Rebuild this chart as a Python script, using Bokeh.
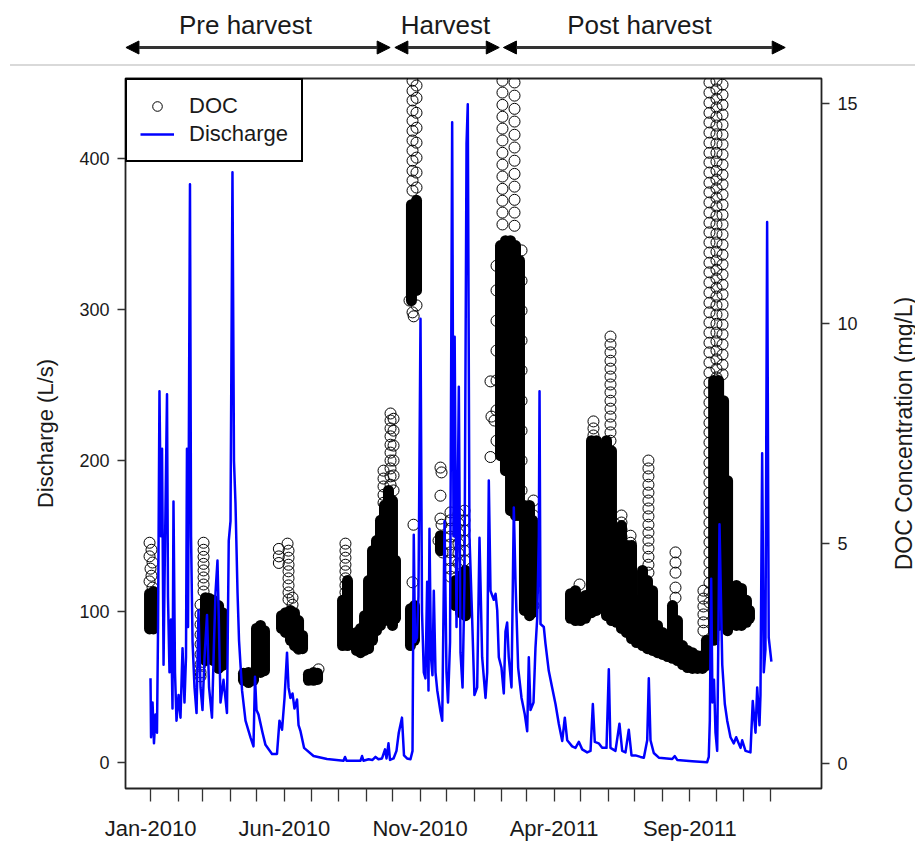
import pandas as pd
from bokeh.plotting import figure
from bokeh.models import (ColumnDataSource, Range1d, LinearAxis, FixedTicker,
                          Legend, LegendItem, Arrow, NormalHead, Div)
from bokeh.layouts import column, row
from bokeh.embed import file_html
from bokeh.resources import INLINE
from bokeh.core.properties import value

ORIGIN = pd.Timestamp("2010-01-01")   # x values are days since this date

# ---------------- data ----------------
# Stream discharge (L/s)
q_day = [0.0, 0.6, 2.3, 3.9, 5.6, 7.3, 8.5, 10.1, 11.8, 13.0,
         14.7, 15.8, 18.6, 19.7, 21.4, 23.1, 24.8, 25.9, 27.6, 29.3,
         31.6, 33.8, 36.1, 38.3, 40.0, 41.1, 42.3, 44.5, 45.7, 47.4,
         49.6, 51.9, 54.1, 56.4, 58.6, 60.9, 63.7, 66.0, 69.3, 71.6,
         73.3, 75.5, 77.2, 78.9, 82.3, 86.2, 88.2, 90.2, 92.4, 94.1,
         95.8, 98.1, 99.8, 103.2, 107.1, 112.7, 116.1, 117.8, 119.5, 121.8,
         126.3, 129.6, 137.0, 142.6, 145.4, 148.3, 151.1, 153.9, 155.6, 157.8,
         160.1, 162.3, 165.2, 166.9, 169.1, 173.1, 183.8, 199.0, 217.6, 219.3,
         221.0, 236.8, 238.5, 240.1, 245.8, 250.3, 253.7, 257.0, 261.0, 264.4,
         266.1, 268.3, 270.0, 274.0, 277.3, 279.9, 283.5, 285.8, 289.2, 293.1,
         295.4, 296.8, 298.2, 300.4, 302.1, 304.4, 306.1, 308.1, 310.0, 311.9,
         313.4, 314.5, 316.2, 317.9, 319.4, 321.3, 323.3, 326.9, 328.9, 331.5,
         333.7, 335.4, 337.7, 340.1, 341.6, 342.9, 345.0, 347.6, 349.5, 351.8,
         354.0, 356.3, 357.7, 359.6, 362.6, 365.2, 368.3, 370.9, 373.9, 377.7,
         379.6, 381.4, 383.3, 387.0, 389.0, 390.9, 392.7, 395.7, 398.3, 400.2,
         402.1, 403.9, 407.0, 409.6, 411.5, 414.5, 418.3, 422.0, 424.7, 426.5,
         428.4, 431.8, 434.0, 436.0, 437.8, 438.6, 439.7, 443.4, 445.3, 449.0,
         452.8, 456.6, 460.3, 464.2, 467.1, 469.8, 475.4, 479.1, 482.9, 486.7,
         492.3, 496.1, 498.7, 500.9, 505.3, 509.2, 514.1, 516.7, 518.6, 524.2,
         528.7, 531.8, 535.5, 539.2, 542.3, 546.8, 552.4, 556.2, 560.0, 561.8,
         563.7, 567.4, 573.1, 588.2, 591.1, 593.8, 610.7, 627.6, 629.4, 630.6,
         632.1, 633.6, 635.3, 637.0, 638.9, 641.5, 644.6, 647.5, 650.2, 653.9,
         657.6, 660.3, 665.2, 667.1, 670.8, 676.4, 679.0, 682.1, 684.0, 686.6,
         687.7, 689.6, 691.4, 693.3, 695.2, 697.0, 700.0]
q_val = [56, 17, 40, 13, 32, 20, 90, 246, 150, 208,
         65, 120, 244, 110, 60, 95, 36, 173, 60, 28,
         45, 30, 76, 40, 70, 208, 90, 383, 150, 80,
         50, 33, 101, 50, 35, 70, 98, 50, 30, 80,
         113, 134, 90, 40, 55, 33, 147, 160, 391, 200,
         172, 113, 81, 48, 28, 17, 11, 57, 35, 32,
         20, 12, 6, 6, 28, 22, 43, 73, 50, 43,
         46, 36, 42, 25, 21, 10, 4.6, 2.6, 1.5, 4,
         1.5, 1.5, 4.6, 1.5, 2.5, 2, 4, 2.5, 3, 9,
         3, 13, 2, 3, 8, 20, 30, 5, 3, 2.5,
         8, 151, 80, 83, 110, 294, 100, 60, 56, 120,
         48, 155, 70, 58, 114, 60, 48, 34, 28, 160,
         60, 40, 80, 424, 150, 282, 90, 249, 73, 50,
         120, 410, 436, 150, 96, 45, 50, 149, 70, 43,
         60, 187, 114, 108, 112, 101, 70, 63, 46, 87,
         93, 70, 50, 169, 120, 63, 43, 32, 21, 70,
         35, 40, 76, 96, 150, 246, 92, 90, 79, 61,
         50, 39, 26, 14.6, 30, 15, 11, 10, 14, 9,
         7, 8, 39, 14, 13, 10, 10, 62, 10, 8,
         26, 8, 7, 22, 5, 5, 4, 3.5, 15, 56,
         15, 6.6, 3.5, 2.6, 4.5, 2, 1.2, 0.5, 4, 28,
         122, 40, 55, 20, 8, 158, 65, 39, 28, 17,
         13, 17, 10, 15, 8, 7, 41, 20, 50, 25,
         45, 205, 60, 75, 358, 83, 67]

# DOC samples (mg/L): for each sampling day, the concentrations recorded
doc_burst_day = [-1.1, 0.0, 1.1, 2.3,
                 56.4, 59.8,
                 144.7, 154.5, 155.6, 160.1, 166.9,
                 189.4,
                 219.8,
                 262.7, 270.6, 274.0,
                 292.0, 295.4, 296.5, 296.7, 299.9,
                 324.7, 326.9, 328.1, 329.2,
                 338.2, 347.2, 354.0,
                 383.3, 384.4, 387.8, 390.1, 396.8, 410.4, 418.3,
                 431.8,
                 483.7,
                 499.4,
                 518.6, 531.0, 541.2,
                 561.4, 591.9, 623.4,
                 630.2, 638.1, 644.9]
doc_burst_val = [
    [5.01, 4.70, 4.13], [4.42], [4.85, 4.26], [4.56, 3.99],
    [3.60, 3.38, 3.15, 2.92, 2.70, 2.47, 2.24, 2.06, 1.97],
    [5.01, 4.85, 4.69, 4.53, 4.38, 4.22, 4.06, 3.90],
    [4.87, 4.70, 4.55], [4.99], [4.83, 4.67, 4.51, 4.36, 4.20, 4.04, 3.88, 3.72],
    [3.76, 3.60], [2.79, 2.60],
    [2.13],
    [4.99, 4.83, 4.67, 4.51, 4.36, 4.20, 4.04, 3.88, 3.72, 3.56],
    [6.65, 6.47, 6.29, 6.10, 5.92],
    [7.95, 7.79, 7.61, 7.43, 7.24, 7.06, 6.88, 6.70, 6.52, 6.33],
    [7.83, 7.56, 7.22, 6.88, 6.54, 6.20],
    [10.52],
    [15.52, 15.29, 15.07, 14.84, 14.61, 14.38, 14.16, 13.93, 13.70, 13.47, 13.25, 13.02, 10.25, 4.11],
    [5.42], [10.16],
    [15.41, 15.13, 14.79, 14.45, 14.11, 13.77, 13.43, 13.09, 10.41],
    [5.06], [6.72, 6.08, 5.56], [6.61, 5.42], [4.79],
    [5.70, 5.52, 5.33, 5.15, 4.97, 4.79, 4.61, 4.42, 4.24],
    [5.67, 5.45, 5.22, 4.99, 4.77, 4.54],
    [5.74, 5.52, 5.29, 5.06, 4.83, 4.61],
    [8.68, 6.96], [7.88], [7.79],
    [11.31, 10.75, 10.06, 9.38, 8.70, 8.02, 7.33],
    [15.52, 15.25, 14.97, 14.70, 14.43, 14.16, 13.88, 13.61, 13.34, 13.06, 12.79, 12.52, 12.25],
    [15.48, 15.18, 14.88, 14.59, 14.29, 14.00, 13.70, 13.40, 13.11, 12.81, 12.52, 12.22],
    [11.66, 10.97, 10.29, 9.61, 8.93, 8.24, 7.56, 6.88, 6.20],
    [5.97, 5.63, 5.29, 4.95, 4.61, 4.26, 3.92, 3.58],
    [4.06],
    [7.77, 7.61, 7.45],
    [9.70, 9.52, 9.34, 9.15, 8.97, 8.79, 8.61, 8.43, 8.24, 8.06, 7.88, 7.70, 7.52, 7.33],
    [5.63, 5.47, 5.31, 5.15, 4.99],
    [5.17, 5.01, 4.86, 4.70],
    [6.88, 6.70, 6.52, 6.33, 6.15, 5.97, 5.79, 5.61, 5.42, 5.24, 5.06, 4.88, 4.69, 4.51, 4.33],
    [4.79, 4.56, 4.33, 3.99, 3.76],
    [3.92, 3.74, 3.56, 3.38, 3.20, 3.01],
    [15.48, 15.25, 15.02, 14.79, 14.57, 14.34, 14.11, 13.88, 13.66, 13.43, 13.20, 12.98, 12.75,
     12.52, 12.29, 12.07, 11.84, 11.61, 11.38, 11.16, 10.93, 10.70, 10.47, 10.25, 10.02, 9.79,
     9.56, 9.34, 9.11, 8.88, 8.65, 8.43, 8.20, 7.97, 7.74, 7.52, 7.29, 7.06, 6.83, 6.61, 6.38,
     6.15, 5.92, 5.70, 5.47, 5.24, 5.02, 4.79, 4.56, 4.33, 4.10, 3.88, 3.65],
    [15.52, 15.32, 15.11, 14.91, 14.70, 14.50, 14.30, 14.09, 13.88, 13.68, 13.47, 13.27, 13.07,
     12.86, 12.66, 12.45, 12.25, 12.04, 11.84, 11.63, 11.43, 11.22, 11.02, 10.81, 10.61, 10.41,
     10.20, 9.99, 9.79, 9.59, 9.38, 9.18, 8.97, 8.77],
    [15.43, 15.20, 14.97, 14.75, 14.52, 14.29, 14.07, 13.84, 13.61, 13.38, 13.16, 12.93, 12.70,
     12.47, 12.25, 12.02, 11.79, 11.56, 11.34, 11.11, 10.88, 10.66, 10.43, 10.20, 9.97, 9.75,
     9.52, 9.29, 9.06, 8.84],
]

# DOC daily range (mg/L) during dense high-frequency sampling (overlapping circles)
docr_day = [-1.1, 3.4, 62.0, 66.5, 71.0, 76.7, 81.2, 104.8, 110.5, 116.1,
            119.5, 124.0, 128.5, 147.7, 152.2, 157.8, 162.3, 166.9, 171.4, 178.1,
            183.8, 188.3, 216.5, 222.1, 232.2, 236.8, 241.3, 245.8, 250.3, 254.8,
            259.3, 263.8, 268.3, 272.8, 276.2, 293.1, 297.6, 294.2, 299.9, 326.9,
            343.8, 349.5, 355.1, 394.6, 400.2, 405.9, 411.5, 416.0, 421.6, 427.3,
            430.7, 473.5, 479.1, 484.8, 490.4, 497.2, 502.8, 507.3, 514.1, 519.7,
            525.4, 531.0, 536.6, 542.3, 547.9, 554.7, 560.3, 566.0, 571.6, 577.2,
            582.9, 588.5, 594.1, 599.8, 605.4, 611.0, 616.7, 622.3, 626.8, 634.9,
            640.5, 646.1, 650.6, 655.0, 660.6, 666.3, 671.9, 675.3]
docr_low = [3.05, 3.05, 2.33, 2.44, 2.33, 2.15, 2.22, 1.88, 1.83, 1.88,
            2.15, 2.06, 2.10, 3.06, 2.97, 2.79, 2.67, 2.60, 2.60, 1.88,
            1.88, 1.90, 2.67, 2.67, 2.56, 2.51, 2.56, 2.60, 2.79, 3.01,
            3.13, 3.24, 3.47, 3.13, 3.29, 2.67, 2.79, 10.52, 10.75, 4.83,
            3.58, 3.42, 3.35, 6.99, 6.65, 5.74, 5.63, 5.63, 3.47, 3.35,
            3.42, 3.29, 3.24, 3.24, 3.29, 3.42, 3.47, 3.58, 3.35, 3.24,
            3.20, 3.06, 2.97, 2.83, 2.74, 2.67, 2.60, 2.56, 2.51, 2.47,
            2.42, 2.38, 2.33, 2.24, 2.17, 2.15, 2.15, 2.15, 2.22, 2.79,
            3.13, 3.13, 3.01, 3.24, 3.13, 3.13, 3.20, 3.29]
docr_high = [3.85, 3.90, 3.76, 3.74, 3.70, 3.58, 3.42, 2.04, 2.06, 1.99,
             3.06, 3.13, 3.01, 3.35, 3.42, 3.47, 3.42, 3.24, 2.90, 2.02,
             2.06, 2.04, 3.70, 4.15, 2.97, 3.06, 3.35, 4.15, 4.83, 5.06,
             5.52, 5.86, 6.20, 5.97, 4.61, 3.51, 3.58, 12.70, 12.80, 5.17,
             4.15, 4.26, 4.38, 11.77, 11.88, 11.88, 11.77, 11.43, 5.86, 5.86,
             5.52, 3.85, 3.92, 3.70, 3.81, 7.33, 7.33, 5.52, 7.33, 7.10,
             5.29, 5.40, 4.95, 4.95, 3.70, 4.38, 4.15, 3.92, 3.13, 2.97,
             2.88, 3.58, 3.24, 2.67, 2.56, 2.51, 2.44, 2.44, 2.79, 8.70,
             8.70, 8.24, 6.42, 3.81, 4.04, 3.97, 3.70, 3.47]

# Management periods (days since 2010-01-01)
period_label = ["Pre harvest", "Harvest", "Post harvest"]
period_start = [-27.7, 275.5, 397.9]
period_end = [270.2, 393.2, 715.6]
period_label_day = [107.0, 332.6, 551.3]

# Axis ticks and titles
tick_label_dates = ["2010-01-01", "2010-06-01", "2010-11-01", "2011-04-01", "2011-09-01"]
tick_labels = ["Jan-2010", "Jun-2010", "Nov-2010", "Apr-2011", "Sep-2011"]
q_ticks = [0, 100, 200, 300, 400]
doc_ticks = [0, 5, 10, 15]
q_title = "Discharge (L/s)"
doc_title = "DOC Concentration (mg/L)"

# ---------------- layout constants ----------------
FONT = "Liberation Sans"
TXT = "#1a1a1a"
W, H = 915, 843
TOP_H = 64          # annotation strip
RULE_H = 2          # grey separator rule
MAIN_H = H - TOP_H - RULE_H
SIDE_W = 30         # strip holding the right-hand axis title
BL, BR, BT, BB = 125, 94, 12, 55
X0, X1 = -28.2, 756.5

# flatten DOC samples
doc_x, doc_y = [], []
for d, vals in zip(doc_burst_day, doc_burst_val):
    for v in vals:
        doc_x.append(d)
        doc_y.append(v)

xr = Range1d(X0, X1)

# ---------------- main plot ----------------
p = figure(width=W - SIDE_W, height=MAIN_H, x_range=xr, y_range=Range1d(-16.9, 453.0),
           toolbar_location=None, output_backend="svg", title=None,
           min_border_left=BL, min_border_right=BR - SIDE_W,
           min_border_top=BT, min_border_bottom=BB)
p.extra_y_ranges = {"doc": Range1d(-0.58, 15.57)}
p.grid.visible = False
p.outline_line_color = "#222222"
p.outline_line_width = 1.8
p.background_fill_color = "white"
p.border_fill_color = "white"

seg_src = ColumnDataSource(dict(day=docr_day, low=docr_low, high=docr_high))
p.segment(x0="day", y0="low", x1="day", y1="high", source=seg_src, y_range_name="doc",
          line_color="black", line_width=11, line_cap="round")
doc_src = ColumnDataSource(dict(day=doc_x, val=doc_y))
doc_r = p.scatter(x="day", y="val", source=doc_src, y_range_name="doc", marker="circle",
                  size=11, fill_color=None, line_color="black", line_width=1.0)
q_src = ColumnDataSource(dict(day=q_day, val=q_val))
q_r = p.line(x="day", y="val", source=q_src, line_color="#0000ff", line_width=2.5,
             line_join="round")

# x axis: monthly ticks, labels every 5 months
month_ticks = [int((m - ORIGIN).days) for m in pd.date_range("2010-01-01", "2011-12-01", freq="MS")]
lab = {int((pd.Timestamp(d) - ORIGIN).days): t for d, t in zip(tick_label_dates, tick_labels)}
xa = p.xaxis[0]
xa.ticker = FixedTicker(ticks=month_ticks)
xa.major_label_overrides = {t: lab.get(t, "") for t in month_ticks}
xa.axis_line_color = None
xa.major_tick_out = 13
xa.major_tick_in = 0
xa.minor_tick_line_color = None
xa.major_tick_line_color = "#333333"
xa.major_tick_line_width = 1.3
xa.major_label_text_font = FONT
xa.major_label_text_font_size = "22px"
xa.major_label_text_color = TXT
xa.major_label_standoff = 14

ya = p.yaxis[0]
ya.ticker = FixedTicker(ticks=q_ticks)
ya.axis_label = q_title
ya.axis_label_text_font = FONT
ya.axis_label_text_font_size = "22px"
ya.axis_label_text_font_style = "normal"
ya.axis_label_text_color = TXT
ya.axis_label_standoff = 18

ra = LinearAxis(y_range_name="doc", ticker=FixedTicker(ticks=doc_ticks))
p.add_layout(ra, "right")

for ax in (ya, ra):
    ax.axis_line_color = None
    ax.major_tick_out = 8
    ax.major_tick_in = 0
    ax.minor_tick_line_color = None
    ax.major_tick_line_color = "#333333"
    ax.major_tick_line_width = 1.3
    ax.major_label_text_font = FONT
    ax.major_label_text_font_size = "18px"
    ax.major_label_text_color = TXT
    ax.major_label_standoff = 8

legend = Legend(items=[LegendItem(label="DOC", renderers=[doc_r]),
                       LegendItem(label="Discharge", renderers=[q_r])],
                location="top_left", margin=0, padding=13, spacing=2,
                label_height=24, glyph_height=24, glyph_width=34, label_standoff=15,
                label_text_font=FONT, label_text_font_size="22px", label_text_color=TXT,
                border_line_color="black", border_line_width=2, border_line_alpha=1.0,
                background_fill_color="white", background_fill_alpha=1.0)
p.add_layout(legend)

# ---------------- right-hand axis title strip (reads bottom-to-top) ----------------
side = figure(width=SIDE_W, height=MAIN_H, x_range=Range1d(0, SIDE_W), y_range=Range1d(0, 1),
              toolbar_location=None, output_backend="svg", title=None,
              min_border_left=0, min_border_right=0, min_border_top=BT, min_border_bottom=BB,
              x_axis_type=None, y_axis_type=None)
side.outline_line_color = None
side.background_fill_color = "white"
side.border_fill_color = "white"
side.text(x=[SIDE_W - 12], y=[0.5], text=[doc_title], angle=90, angle_units="deg",
          text_align="center", text_baseline="middle",
          text_font=value(FONT), text_font_size="23px", text_color=TXT)

# ---------------- top annotation strip ----------------
t = figure(width=W, height=TOP_H, x_range=xr, y_range=Range1d(0, TOP_H),
           toolbar_location=None, output_backend="svg", title=None,
           min_border_left=BL, min_border_right=BR, min_border_top=0, min_border_bottom=0,
           x_axis_type=None, y_axis_type=None)
t.outline_line_color = None
t.background_fill_color = "white"
t.border_fill_color = "white"
for s, e in zip(period_start, period_end):
    t.add_layout(Arrow(start=NormalHead(size=13, fill_color="black", line_color="black"),
                       end=NormalHead(size=13, fill_color="black", line_color="black"),
                       x_start=s, y_start=17, x_end=e, y_end=17,
                       line_color="#333333", line_width=3))
t.text(x=period_label_day, y=[40] * len(period_label), text=period_label,
       text_align="center", text_baseline="middle",
       text_font=value(FONT), text_font_size="26px", text_color=TXT)

rule = Div(text="", width=W - 10, height=RULE_H, margin=(0, 0, 0, 10),
           styles={"background-color": "#d9d9d9"})

layout = column(t, rule, row(p, side, spacing=0), spacing=0)
open("out.html", "w").write(file_html(layout, INLINE))
